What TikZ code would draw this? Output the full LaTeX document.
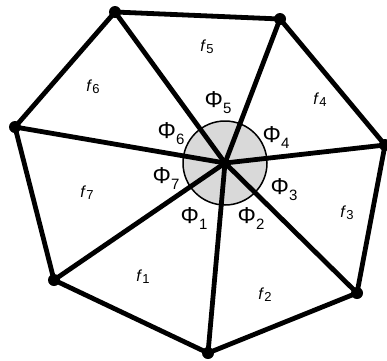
\documentclass[tikz,border=0pt]{standalone}
\usepackage{fontspec}
\setmainfont{Liberation Sans}
\tikzset{
  edge/.style={line width=4.8pt, line cap=round, line join=round, black},
  vdot/.style={circle, fill=black, inner sep=0pt, minimum size=12pt},
  hub/.style={circle, draw=black, line width=1.5pt, fill=black!15, inner sep=0pt, minimum size=84pt},
  philab/.style={inner sep=0pt, font=\fontsize{23}{23}\selectfont},
  flab/.style={inner sep=0pt, font=\fontsize{16}{16}\selectfont},
}
\newcommand{\phil}[1]{Φ\raisebox{-6pt}{\fontsize{15}{15}\selectfont #1}}
\newcommand{\flabel}[1]{\textit{f}\raisebox{-2pt}{\fontsize{13}{13}\selectfont #1}}
\begin{document}
\begin{tikzpicture}[x=1pt,y=-1pt]
\useasboundingbox (0,0) rectangle (387,360);
\coordinate (c) at (225,163);
\node[hub] (h) at (c) {};
\coordinate (v1) at (115,12);
\coordinate (v2) at (280,19);
\coordinate (v3) at (385,145);
\coordinate (v4) at (357,293);
\coordinate (v5) at (208,353);
\coordinate (v6) at (54,280);
\coordinate (v7) at (15,127);
\draw[edge] (v1) -- (v2) -- (v3) -- (v4) -- (v5) -- (v6) -- (v7) -- cycle;
\foreach \v in {v1,v2,v3,v4,v5,v6,v7} { \draw[edge] (c) -- (\v); }
\foreach \v in {v1,v2,v3,v4,v5,v6,v7} { \node[vdot] (d\v) at (\v) {}; }
\node[philab] (p5) at (218,103) {\phil{5}};
\node[philab] (p6) at (171,134) {\phil{6}};
\node[philab] (p4) at (276,138) {\phil{4}};
\node[philab] (p7) at (166,179) {\phil{7}};
\node[philab] (p3) at (284,190) {\phil{3}};
\node[philab] (p1) at (194,219) {\phil{1}};
\node[philab] (p2) at (251,219) {\phil{2}};
\node[flab] (f6) at (93,87) {\flabel{6}};
\node[flab] (f5) at (207,47) {\flabel{5}};
\node[flab] (f4) at (320,100) {\flabel{4}};
\node[flab] (f3) at (347,213) {\flabel{3}};
\node[flab] (f7) at (87,193) {\flabel{7}};
\node[flab] (f1) at (143,277) {\flabel{1}};
\node[flab] (f2) at (265,295) {\flabel{2}};
\end{tikzpicture}
\end{document}
